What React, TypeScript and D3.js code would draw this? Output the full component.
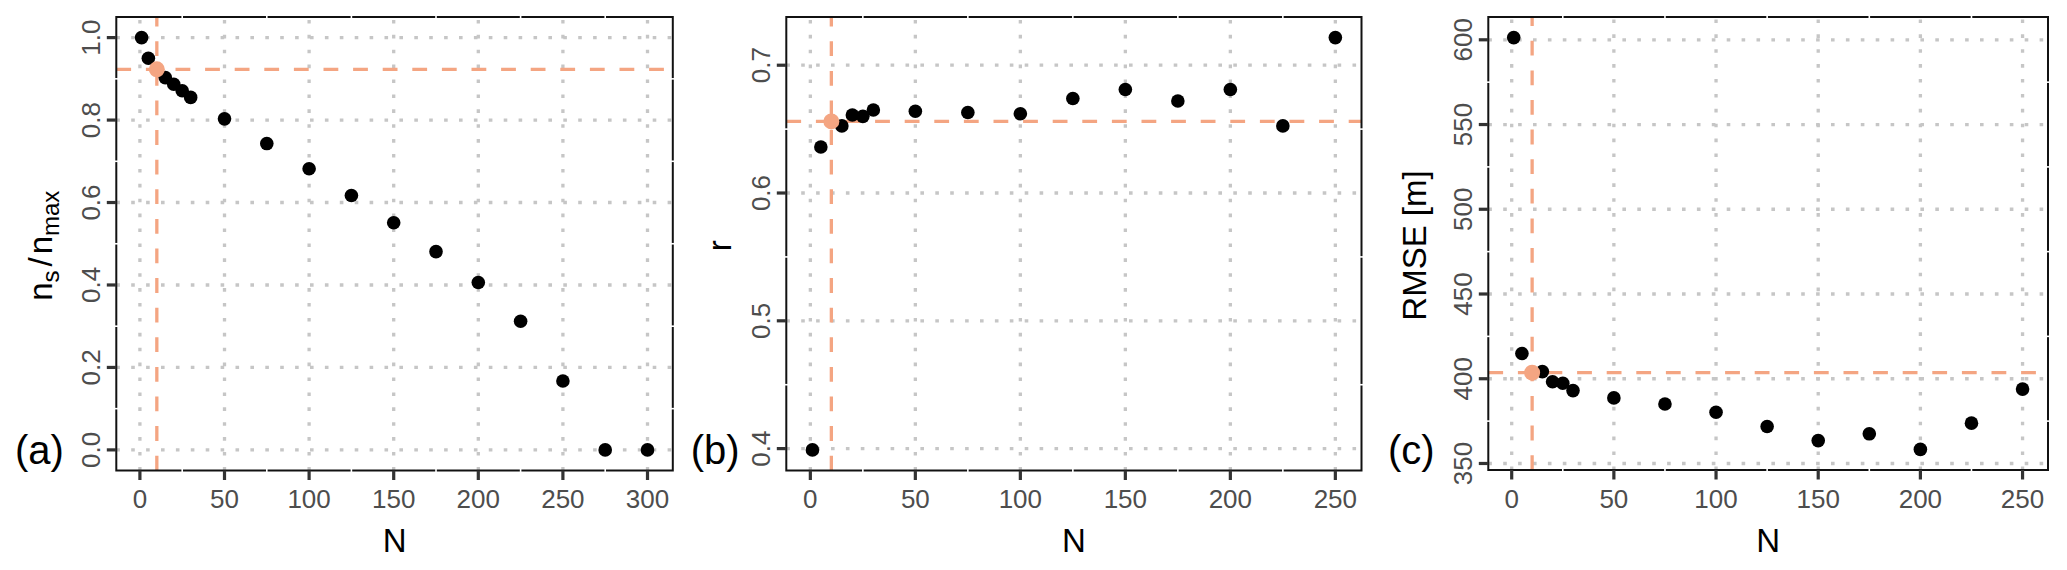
import React from 'react';
import * as d3 from 'd3';

// panel (a): share of stations kept
const nA = [1, 5, 10, 15, 20, 25, 30, 50, 75, 100, 125, 150, 175, 200, 225, 250, 275, 300];
const ratioA = [1.0, 0.95, 0.923, 0.903, 0.887, 0.871, 0.855, 0.803, 0.743, 0.682, 0.617, 0.551, 0.481, 0.406, 0.312, 0.167, 0.0, 0.0];

// panels (b) and (c)
const nBC = [1, 5, 10, 15, 20, 25, 30, 50, 75, 100, 125, 150, 175, 200, 225, 250];
const rB = [0.399, 0.636, 0.656, 0.6525, 0.661, 0.66, 0.665, 0.664, 0.663, 0.662, 0.674, 0.681, 0.672, 0.681, 0.6525, 0.7216];
const rmseC = [601.3, 414.9, 403.6, 404.2, 398.2, 397.3, 393.0, 388.7, 385.1, 380.2, 371.8, 363.5, 367.5, 358.3, 373.8, 393.9];

const chosenN = 10;

const xTicksA = [0, 50, 100, 150, 200, 250, 300];
const xTicksBC = [0, 50, 100, 150, 200, 250];
const yTicksA = [0, 0.2, 0.4, 0.6, 0.8, 1.0];
const yTicksB = [0.4, 0.5, 0.6, 0.7];
const yTicksC = [350, 400, 450, 500, 550, 600];

const FONT = '"Liberation Sans", Arial, Helvetica, sans-serif';
const ORANGE = '#F4A582';
const GRID = '#C6C6C6';

type PanelProps = {
  left: number;
  right: number;
  top: number;
  bottom: number;
  xs: number[];
  ys: number[];
  xTicks: number[];
  yTicks: number[];
  yFmt: (v: number) => string;
  tag: string;
  tagX: number;
  yTitle: React.ReactNode;
  yTitleX: number;
};

// ggplot style: 5% expansion on each side
function expand(vals: number[]): [number, number] {
  const [lo, hi] = d3.extent(vals) as [number, number];
  const pad = (hi - lo) * 0.05;
  return [lo - pad, hi + pad];
}

function minors(ticks: number[], domain: [number, number]) {
  const step = ticks[1] - ticks[0];
  const out: number[] = [];
  for (let v = ticks[0] - step / 2; v <= domain[1]; v += step) {
    if (v >= domain[0]) out.push(v);
  }
  return out;
}

function Panel(p: PanelProps) {
  const xDom = expand(p.xs);
  const yDom = expand(p.ys);
  const x = d3.scaleLinear().domain(xDom).range([p.left, p.right]);
  const y = d3.scaleLinear().domain(yDom).range([p.bottom, p.top]);
  const hi = p.xs.indexOf(chosenN);
  const hy = p.ys[hi];
  const xMinor = minors(p.xTicks, xDom);
  const yMinor = minors(p.yTicks, yDom);
  const cx = (p.left + p.right) / 2;
  const cy = (p.top + p.bottom) / 2;

  return (
    <g>
      {/* dotted major grid */}
      {p.xTicks.map((t) => (
        <line key={'gx' + t} x1={x(t)} x2={x(t)} y1={p.bottom} y2={p.top}
          stroke={GRID} strokeWidth={3.3} strokeDasharray="3.6 11.3" />
      ))}
      {p.yTicks.map((t) => (
        <line key={'gy' + t} x1={p.left} x2={p.right} y1={y(t)} y2={y(t)}
          stroke={GRID} strokeWidth={3.3} strokeDasharray="3.6 11.3" />
      ))}

      {/* reference lines at the chosen N */}
      <line x1={p.left} x2={p.right} y1={y(hy)} y2={y(hy)}
        stroke={ORANGE} strokeWidth={3.3} strokeDasharray="14.8 14.8" />
      <line x1={x(chosenN)} x2={x(chosenN)} y1={p.bottom} y2={p.top}
        stroke={ORANGE} strokeWidth={3.3} strokeDasharray="14.8 14.8" />

      {p.xs.map((n, i) =>
        i === hi ? null : <circle key={'pt' + n} cx={x(n)} cy={y(p.ys[i])} r={6.8} fill="#000" />
      )}
      <circle cx={x(chosenN)} cy={y(hy)} r={8} fill={ORANGE} />

      <rect x={p.left} y={p.top} width={p.right - p.left} height={p.bottom - p.top}
        fill="none" stroke="#111" strokeWidth={2} />

      {/* white breaks in the frame at minor breaks */}
      {xMinor.map((t) => (
        <g key={'mx' + t}>
          <line x1={x(t)} x2={x(t)} y1={p.top - 2} y2={p.top + 2} stroke="#fff" strokeWidth={1.6} />
          <line x1={x(t)} x2={x(t)} y1={p.bottom - 2} y2={p.bottom + 2} stroke="#fff" strokeWidth={1.6} />
        </g>
      ))}
      {yMinor.map((t) => (
        <g key={'my' + t}>
          <line x1={p.left - 2} x2={p.left + 2} y1={y(t)} y2={y(t)} stroke="#fff" strokeWidth={1.6} />
          <line x1={p.right - 2} x2={p.right + 2} y1={y(t)} y2={y(t)} stroke="#fff" strokeWidth={1.6} />
        </g>
      ))}

      {/* axes */}
      {p.xTicks.map((t) => (
        <g key={'tx' + t}>
          <line x1={x(t)} x2={x(t)} y1={p.bottom} y2={p.bottom + 9.5} stroke="#333" strokeWidth={3.2} />
          <text x={x(t)} y={p.bottom + 37.5} textAnchor="middle" fontSize={26} fill="#4D4D4D">{t}</text>
        </g>
      ))}
      {p.yTicks.map((t) => (
        <g key={'ty' + t}>
          <line x1={p.left - 9.5} x2={p.left} y1={y(t)} y2={y(t)} stroke="#333" strokeWidth={3.2} />
          <text transform={`translate(${p.left - 16.5},${y(t)}) rotate(-90)`} textAnchor="middle"
            fontSize={26} fill="#4D4D4D">{p.yFmt(t)}</text>
        </g>
      ))}

      <text x={cx} y={551.7} textAnchor="middle" fontSize={33} fill="#000">N</text>
      <text transform={`translate(${p.yTitleX},${cy + 2}) rotate(-90)`} textAnchor="middle"
        fontSize={33} fill="#000">{p.yTitle}</text>
      <text x={p.tagX} y={464} fontSize={40} fill="#000">{p.tag}</text>
    </g>
  );
}

export default function App() {
  const fmt1 = d3.format('.1f');
  const fmt0 = d3.format('d');
  return (
    <svg width={2067} height={570} style={{ position: 'absolute', left: 0, top: 0, background: '#fff' }}
      fontFamily={FONT}>
      <rect width={2067} height={570} fill="#fff" />
      <Panel left={116.3} right={672.8} top={17} bottom={470.5} xs={nA} ys={ratioA}
        xTicks={xTicksA} yTicks={yTicksA} yFmt={fmt1} tag="(a)" tagX={15} yTitleX={51.7}
        yTitle={<>
          <tspan>n</tspan>
          <tspan fontSize={24} dy={7}>s</tspan>
          <tspan dy={-7} dx={4}>/</tspan>
          <tspan dx={3}>n</tspan>
          <tspan fontSize={24} dy={7}>max</tspan>
        </>} />
      <Panel left={786.3} right={1361.5} top={17} bottom={470.5} xs={nBC} ys={rB}
        xTicks={xTicksBC} yTicks={yTicksB} yFmt={fmt1} tag="(b)" tagX={690.7} yTitleX={731}
        yTitle="r" />
      <Panel left={1488.3} right={2048} top={17} bottom={470} xs={nBC} ys={rmseC}
        xTicks={xTicksBC} yTicks={yTicksC} yFmt={fmt0} tag="(c)" tagX={1388} yTitleX={1425.7}
        yTitle="RMSE [m]" />
    </svg>
  );
}
